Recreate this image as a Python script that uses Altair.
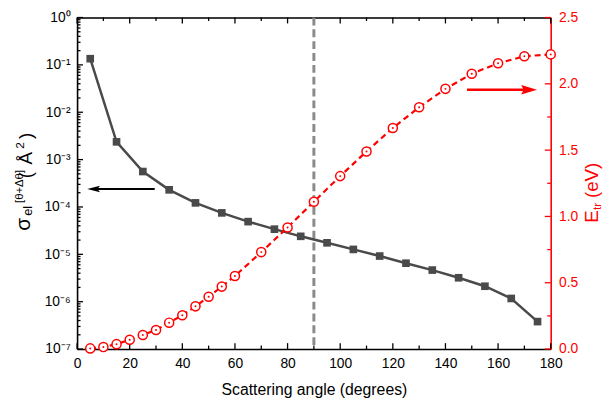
import altair as alt
import pandas as pd

# ---------------- data ----------------
sq_angle = [5, 15, 25, 35, 45, 55, 65, 75, 85, 95, 105, 115, 125, 135, 145, 155, 165, 175]
sigma = [0.135, 2.37e-3, 5.6e-4, 2.3e-4, 1.22e-4, 7.5e-5, 4.9e-5, 3.4e-5, 2.4e-5,
         1.75e-5, 1.27e-5, 9.2e-6, 6.5e-6, 4.65e-6, 3.2e-6, 2.12e-6, 1.17e-6, 3.8e-7]

e_angle = [5, 10, 15, 20, 25, 30, 35, 40, 45, 50, 55, 60, 70, 80, 90, 100, 110, 120,
           130, 140, 150, 160, 170, 180]
energy = [0.005, 0.015, 0.037, 0.07, 0.106, 0.144, 0.199, 0.255, 0.322, 0.394, 0.471,
          0.551, 0.731, 0.917, 1.111, 1.304, 1.49, 1.667, 1.823, 1.962, 2.076, 2.155,
          2.208, 2.222]

x_major = [0, 20, 40, 60, 80, 100, 120, 140, 160, 180]
x_minor = [10, 30, 50, 70, 90, 110, 130, 150, 170]
yl_major = [1e-7, 1e-6, 1e-5, 1e-4, 1e-3, 1e-2, 1e-1, 1.0]
yl_minor = [k * 10.0 ** n for n in range(-7, 0) for k in range(2, 10)]
yl_labels = ["10⁻⁷", "10⁻⁶", "10⁻⁵", "10⁻⁴", "10⁻³", "10⁻²", "10⁻¹", "10⁰"]
yr_major = [0.0, 0.5, 1.0, 1.5, 2.0, 2.5]
yr_minor = [0.25, 0.75, 1.25, 1.75, 2.25]

marker_angle = [90]
black_arrow = {"x1": [29.5], "x2": [6.3], "y": [2.4e-4]}
red_arrow = {"x1": [148.2], "x2": [171.8], "y": [1.955]}

x_title = "Scattering angle (degrees)"
left_title_parts = ["σ", "el", "[θ+Δθ]", "(", "Å", "2", ")"]
right_title_parts = ["E", "tr", "(eV)"]

# ---------------- styling ----------------
FONT = "Liberation Sans"
W, H = 480, 336
XS = alt.Scale(domain=[0, 180], nice=False, zero=False)
YL = alt.Scale(type="log", domain=[1e-7, 1], nice=False)
YR = alt.Scale(domain=[0, 2.5], nice=False, zero=False)
GRAY = "#4a4a4a"
RED = "#ff0000"
MAJ, MIN = 6, 3.5

df_s = pd.DataFrame({"angle": sq_angle, "sigma": sigma})
df_e = pd.DataFrame({"angle": e_angle, "energy": energy})
dummy = pd.DataFrame({"a": [90.0], "l": [1e-3], "r": [1.0]})

label_expr = "[" + ",".join("'%s'" % s for s in yl_labels) + "][round(log(datum.value)/LN10)+7]"


def lab_axis(orient, values, color="black", labels=True, **kw):
    return alt.Axis(orient=orient, values=values, ticks=False, domain=True, domainColor=color,
                    domainWidth=1.6, labels=labels, grid=False, labelFont=FONT,
                    labelFontSize=14, labelColor=color, titleFont=FONT, labelFlush=False,
                    labelOverlap=False, **kw)


def carrier(xaxis, ych, yscale, yaxis):
    return alt.Chart(dummy).mark_point(opacity=0).encode(
        x=alt.X("a:Q", scale=XS, axis=xaxis),
        y=alt.Y(f"{ych}:Q", scale=yscale, axis=yaxis),
    )


c_a = carrier(
    lab_axis("bottom", x_major, labelPadding=8, title=x_title, titleFontSize=16,
             titleFontWeight="normal", titleColor="black", titlePadding=11),
    "l", YL,
    lab_axis("left", yl_major, labelPadding=7, labelExpr=label_expr, title=None),
)
c_c = carrier(lab_axis("top", x_major, labels=False, title=None), "r", YR,
              lab_axis("right", yr_major, color=RED, labelPadding=8, format=".1f", title=None))

X = lambda f: alt.X(f, scale=XS, axis=None)


# inward tick marks drawn through the scales
def xticks(vals, size, top):
    return alt.Chart(pd.DataFrame({"v": vals})).mark_rule(color="black", strokeWidth=1.3).encode(
        x=X("v:Q"), y=alt.value(0 if top else H), y2=alt.value(size if top else H - size))


def yticks(vals, scale, size, right, color):
    return alt.Chart(pd.DataFrame({"v": vals})).mark_rule(color=color, strokeWidth=1.3).encode(
        y=alt.Y("v:Q", scale=scale, axis=None),
        x=alt.value(W if right else 0), x2=alt.value(W - size if right else size))


ticks = [
    xticks(x_major, MAJ, False), xticks(x_minor, MIN, False),
    xticks(x_major, MAJ, True), xticks(x_minor, MIN, True),
    yticks(yl_major, YL, MAJ, False, "black"), yticks(yl_minor, YL, MIN, False, "black"),
    yticks(yr_major, YR, MAJ, True, RED), yticks(yr_minor, YR, MIN, True, RED),
]

vline = alt.Chart(pd.DataFrame({"a": marker_angle})).mark_rule(
    color="#8a8a8a", strokeWidth=3, strokeDash=[8, 4]).encode(x=X("a:Q"))

gray_line = alt.Chart(df_s).mark_line(color=GRAY, strokeWidth=2.5).encode(
    x=X("angle:Q"), y=alt.Y("sigma:Q", scale=YL, axis=None))
gray_pts = alt.Chart(df_s).mark_square(size=60, color=GRAY, opacity=1).encode(
    x=X("angle:Q"), y=alt.Y("sigma:Q", scale=YL, axis=None))

red_line = alt.Chart(df_e).mark_line(color=RED, strokeWidth=2.2, strokeDash=[6, 4]).encode(
    x=X("angle:Q"), y=alt.Y("energy:Q", scale=YR, axis=None))
red_circ = alt.Chart(df_e).mark_circle(size=85, fill="white", stroke=RED, strokeWidth=1.5,
                                       opacity=1).encode(
    x=X("angle:Q"), y=alt.Y("energy:Q", scale=YR, axis=None))
red_dot = alt.Chart(df_e).mark_circle(size=4, color=RED, opacity=1).encode(
    x=X("angle:Q"), y=alt.Y("energy:Q", scale=YR, axis=None))

df_ba = pd.DataFrame(black_arrow)
ba_line = alt.Chart(df_ba).mark_rule(color="black", strokeWidth=2).encode(
    x=X("x1:Q"), x2="x2:Q", y=alt.Y("y:Q", scale=YL, axis=None))
ba_head = alt.Chart(df_ba).mark_point(shape="M-1,0L1,-0.5L0.6,0L1,0.5Z", size=169,
                                      filled=True, color="black", opacity=1).encode(
    x=X("x2:Q"), y=alt.Y("y:Q", scale=YL, axis=None))

df_ra = pd.DataFrame(red_arrow)
ra_line = alt.Chart(df_ra).mark_rule(color=RED, strokeWidth=2.5).encode(
    x=X("x1:Q"), x2="x2:Q", y=alt.Y("y:Q", scale=YR, axis=None))
ra_head = alt.Chart(df_ra).mark_point(shape="M1,0L-1,-0.6L-0.7,0L-1,0.6Z", size=256,
                                      filled=True, color=RED, opacity=1).encode(
    x=X("x2:Q"), y=alt.Y("y:Q", scale=YR, axis=None))


def txt(t, x, y, size, color="black"):
    # x, y: page pixel position of the text start (baseline), converted to plot coords
    return alt.Chart(dummy).mark_text(text=t, angle=270, align="left", baseline="alphabetic",
                                      font=FONT, fontSize=size, color=color).encode(
        x=alt.value(x - 78), y=alt.value(y - 15))


titles = [
    txt(left_title_parts[0], 30, 231, 21),
    txt(left_title_parts[1], 32, 216, 13),
    txt(left_title_parts[2], 23, 203, 11.5),
    txt(left_title_parts[3], 32, 178, 19),
    txt(left_title_parts[4], 32, 164, 19),
    txt(left_title_parts[5], 24, 148, 12),
    txt(left_title_parts[6], 32, 138, 19),
    txt(right_title_parts[0], 606, 223, 19, RED),
    txt(right_title_parts[1], 609, 210, 12, RED),
    txt(right_title_parts[2], 606, 198, 19, RED),
]

chart = alt.layer(
    c_a, c_c, *ticks, vline, gray_line, gray_pts, red_line, red_circ, red_dot,
    ba_line, ba_head, ra_line, ra_head, *titles
).resolve_scale(x="independent", y="independent").properties(
    width=W, height=H,
    padding={"left": 70, "top": 7, "right": 53, "bottom": 50},
    autosize=alt.AutoSizeParams(type="none"),
).configure_view(stroke=None).configure(background="white")

chart.save("out.html", embed_options={"renderer": "svg", "actions": False})
